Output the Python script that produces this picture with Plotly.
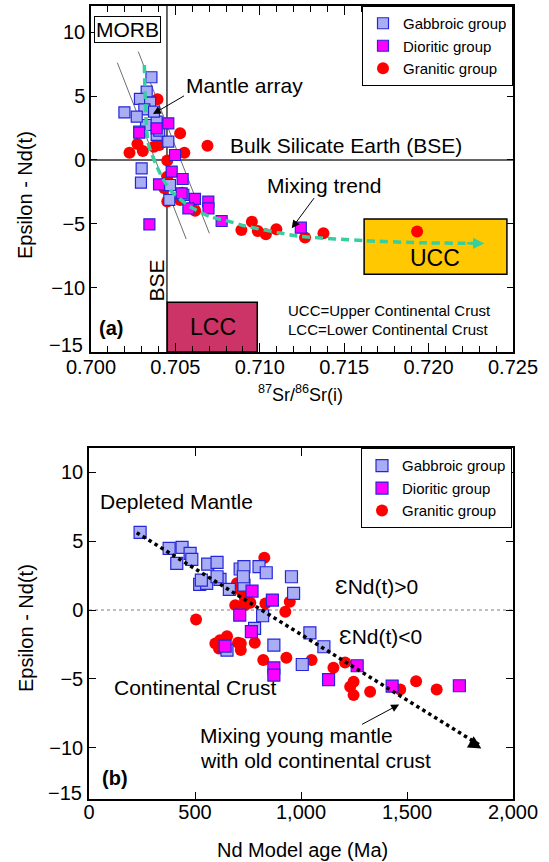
import plotly.graph_objects as go

FONT = "Liberation Sans, Arial, sans-serif"

# ---------------- Panel (a): Sr isotopes vs epsilon Nd ----------------
a_gab_sr = [0.70358, 0.70330, 0.70290, 0.70350, 0.70198, 0.70316, 0.70326, 0.70389,
            0.70389, 0.70458, 0.70300, 0.70296, 0.70468, 0.70464, 0.70547, 0.70286,
            0.70271, 0.70373, 0.70404]
a_gab_eps = [6.48, 5.35, 4.78, 4.49, 3.73, 3.97, 2.74, 3.00,
             1.96, 1.44, -0.65, -1.78, -1.96, -3.13, -2.74, 2.22,
             3.39, 3.79, 2.30]

a_dio_sr = [0.70458, 0.70389, 0.70286, 0.70498, 0.70478, 0.70543, 0.70403, 0.70537,
            0.70616, 0.70695, 0.70696, 0.70577, 0.70774, 0.70346, 0.71243]
a_dio_eps = [2.87, 2.48, 2.14, 0.39, -0.91, -1.49, -1.91, -2.61,
             -3.05, -3.26, -3.79, -3.79, -4.78, -5.04, -5.30]

a_gra_sr = [0.70394, 0.70228, 0.70275, 0.70307, 0.70373, 0.70404, 0.70528, 0.70553,
            0.70690, 0.70452, 0.70452, 0.70435, 0.70452, 0.70528, 0.70617, 0.70891,
            0.70953, 0.70988, 0.71036, 0.71098, 0.71268, 0.71377, 0.71932, 0.70539]
a_gra_eps = [4.75, 0.57, 1.25, 0.70, 1.04, 1.17, 2.09, 0.57,
             1.12, -0.05, -1.31, -2.22, -3.26, -3.13, -3.97, -5.48,
             -4.83, -5.56, -5.82, -5.43, -6.08, -5.74, -5.61, -2.56]

mix_sr = [0.70316, 0.70339, 0.70409, 0.70468, 0.70587, 0.70705, 0.70823, 0.70913,
          0.71224, 0.71618, 0.71950, 0.72261]
mix_eps = [7.44, 1.31, -1.04, -2.35, -3.66, -4.44, -4.83, -5.17,
           -5.95, -6.32, -6.48, -6.53]
mix_head_sr = [0.72220, 0.72330]
mix_head_eps = [-6.53, -6.55]

mantle1_sr = [0.70156, 0.70564]
mantle1_eps = [7.62, -6.19]
mantle2_sr = [0.70280, 0.70701]
mantle2_eps = [8.49, -5.74]

bse_sr = 0.7045
bse_eps = 0.0
ucc_sr = [0.71618, 0.72464]
ucc_eps = [-4.62, -8.96]
lcc_sr = [0.70452, 0.70985]
lcc_eps = [-11.15, -15.04]

a_eps_ticks = [-10, -5, 0, 5, 10]

# ---------------- Panel (b): Nd model age vs epsilon Nd ----------------
b_gab_age = [241, 378, 439, 414, 477, 485, 560, 604, 522, 555, 618, 604, 662, 713,
             731, 731, 728, 802, 836, 955, 965, 819, 781, 872, 1042, 1108, 1006, 651, 530]
b_gab_eps = [5.64, 4.48, 4.55, 3.39, 4.12, 3.68, 3.34, 3.46, 1.86, 1.94, 2.23, 2.42, 1.50, 2.98,
             3.15, 1.82, 2.42, 3.15, 2.71, 2.42, 1.21, -0.41, -1.33, -2.54, -1.65, -2.66, -3.95, -2.90, 2.18]

b_dio_age = [769, 865, 711, 766, 642, 872, 872, 1130, 1265, 1430, 1747]
b_dio_eps = [1.38, 0.73, -0.36, -1.57, -2.61, -4.19, -4.72, -5.04, -4.04, -5.52, -5.49]

b_gra_age = [827, 505, 596, 618, 651, 613, 703, 716, 716, 782, 822, 931, 1050, 1153, 1208,
             1232, 1248, 1248, 1326, 1468, 1543, 1640, 698, 690, 736, 761, 832, 926, 947, 720, 736]
b_gra_eps = [3.80, -0.68, -2.42, -2.18, -1.89, -2.78, -2.37, -2.90, -2.42, -2.37, -3.63, -3.46, -3.63, -4.19, -3.80,
             -5.57, -5.20, -6.17, -5.93, -5.76, -5.16, -5.76, 1.94, 0.36, 0.36, 0.53, 0.48, -0.12, 0.61, 1.33, 0.73]

trend_age = [225, 1843]
trend_eps = [5.62, -9.80]
trend_head_age = [1790, 1851]
trend_head_eps = [-9.48, -10.05]
mix_note_age = [1281, 1463]
mix_note_eps = [-8.35, -6.85]

GAB_FILL = "#a9aef4"
EDGE = "#2626d9"
DIO_FILL = "#ff00ff"
GRA_FILL = "#ff0000"
TEAL = "#35cfa0"

fig = go.Figure()

def add_groups(xa, ya, gab, dio, gra, legend, show, sq=11, ci=12):
    # drawing order: granitic (bottom), gabbroic, dioritic (top)
    fig.add_trace(go.Scatter(x=gra[0], y=gra[1], mode="markers", name="Granitic group",
                             xaxis=xa, yaxis=ya, legend=legend, legendrank=3, showlegend=show,
                             marker=dict(symbol="circle", size=ci, color=GRA_FILL,
                                         line=dict(width=0))))
    fig.add_trace(go.Scatter(x=gab[0], y=gab[1], mode="markers", name="Gabbroic group",
                             xaxis=xa, yaxis=ya, legend=legend, legendrank=1, showlegend=show,
                             marker=dict(symbol="square", size=sq, color=GAB_FILL,
                                         line=dict(width=1.2, color=EDGE))))
    fig.add_trace(go.Scatter(x=dio[0], y=dio[1], mode="markers", name="Dioritic group",
                             xaxis=xa, yaxis=ya, legend=legend, legendrank=2, showlegend=show,
                             marker=dict(symbol="square", size=sq, color=DIO_FILL,
                                         line=dict(width=1.2, color=EDGE))))

# mantle array lines (panel a)
for xs, ys in [(mantle1_sr, mantle1_eps), (mantle2_sr, mantle2_eps)]:
    fig.add_trace(go.Scatter(x=xs, y=ys, mode="lines", xaxis="x", yaxis="y", showlegend=False,
                             line=dict(color="#6e6e6e", width=1), hoverinfo="skip"))

add_groups("x", "y", (a_gab_sr, a_gab_eps), (a_dio_sr, a_dio_eps), (a_gra_sr, a_gra_eps),
           "legend", True)

fig.add_trace(go.Scatter(x=mix_sr, y=mix_eps, mode="lines", xaxis="x", yaxis="y",
                         showlegend=False, line=dict(color=TEAL, width=3.5, dash="8px,5px",
                                                     shape="spline", smoothing=0.6)))

# panel b
add_groups("x2", "y2", (b_gab_age, b_gab_eps), (b_dio_age, b_dio_eps), (b_gra_age, b_gra_eps),
           "legend2", True, sq=12, ci=12)
fig.add_trace(go.Scatter(x=trend_age, y=trend_eps, mode="lines", xaxis="x2", yaxis="y2",
                         showlegend=False, line=dict(color="black", width=3.5, dash="dot")))

shapes = [
    dict(type="line", xref="x", yref="y domain", x0=bse_sr, x1=bse_sr, y0=0, y1=1,
         line=dict(color="#333333", width=1.5), layer="below"),
    dict(type="line", xref="x domain", yref="y", x0=0, x1=1, y0=bse_eps, y1=bse_eps,
         line=dict(color="#333333", width=1.5), layer="below"),
    dict(type="rect", xref="x", yref="y", x0=ucc_sr[0], x1=ucc_sr[1], y0=ucc_eps[0], y1=ucc_eps[1],
         fillcolor="#ffc800", line=dict(color="black", width=1.5), layer="below"),
    dict(type="rect", xref="x", yref="y", x0=lcc_sr[0], x1=lcc_sr[1], y0=lcc_eps[0], y1=lcc_eps[1],
         fillcolor="#cc3366", line=dict(color="black", width=1.5), layer="below"),
    dict(type="line", xref="x2 domain", yref="y2", x0=0, x1=1, y0=0, y1=0,
         line=dict(color="#aaaaaa", width=1.5, dash="dot"), layer="below"),
]

BIG = 21
ann = []
def txt(text, x, y, xref, yref, size=BIG, xanchor="left", yanchor="middle", **kw):
    ann.append(dict(text=text, x=x, y=y, xref=xref, yref=yref, showarrow=False,
                    xanchor=xanchor, yanchor=yanchor, font=dict(family=FONT, size=size, color="black"), **kw))

# panel a texts
txt("MORB", 0.70219, 10.18, "x", "y", xanchor="center", bordercolor="black", borderwidth=1,
    borderpad=1, bgcolor="white")
txt("Mantle array", 0.70550, 5.87, "x", "y")
txt("Bulk Silicate Earth (BSE)", 0.70813, 1.17, "x", "y")
txt("Mixing trend", 0.71031, -1.96, "x", "y")
txt("BSE", 0.70388, -9.40, "x", "y", xanchor="center", textangle=-90)
txt("<b>(a)</b>", 0.70116, -13.18, "x", "y", size=20, xanchor="center")
txt("UCC", 0.72039, -7.70, "x", "y", size=23, xanchor="center")
txt("LCC", 0.70720, -13.10, "x", "y", size=23, xanchor="center")
txt("UCC=Upper Continental Crust", 0.71155, -11.82, "x", "y", size=15)
txt("LCC=Lower Continental Crust", 0.71155, -13.31, "x", "y", size=15)

# panel b texts
txt("Depleted Mantle", 42, 7.87, "x2", "y2")
txt("ƐNd(t)>0", 1151, 1.69, "x2", "y2")
txt("ƐNd(t)<0", 1170, -1.94, "x2", "y2")
txt("Continental Crust", 108, -5.64, "x2", "y2")
txt("Mixing young mantle", 514, -9.08, "x2", "y2")
txt("with old continental crust", 514, -10.94, "x2", "y2")
txt("<b>(b)</b>", 123, -12.2, "x2", "y2", size=20, xanchor="center")

# axis titles and the squeezed bottom tick labels of the reference
txt("Epsilon - Nd(t)", 25 / 549, 1 - 195 / 862, "paper", "paper", size=20, xanchor="center",
    textangle=-90)
txt("<sup>87</sup>Sr/<sup>86</sup>Sr(i)", 300 / 549, 1 - 393 / 862, "paper", "paper", size=18,
    xanchor="center")
txt("Epsilon - Nd(t)", 26 / 549, 1 - 628 / 862, "paper", "paper", size=20, xanchor="center",
    textangle=-90)
txt("Nd Model age (Ma)", 302 / 549, 1 - 850 / 862, "paper", "paper", size=20, xanchor="center")
txt("\u221215", 85 / 549, 1 - 345 / 862, "paper", "paper", size=20, xanchor="right")
txt("\u221215", 84 / 549, 1 - 792.7 / 862, "paper", "paper", size=20, xanchor="right")

# arrows
def arrow(tail, head, xref, yref, color, width, head_style, size):
    ann.append(dict(x=head[0], y=head[1], ax=tail[0], ay=tail[1], xref=xref, yref=yref,
                    axref=xref, ayref=yref, text="", showarrow=True, arrowhead=head_style,
                    arrowsize=size, arrowwidth=width, arrowcolor=color, standoff=0))

arrow((0.70560, 5.09), (0.70367, 3.60), "x", "y", "black", 1, 2, 1.6)
arrow((0.71328, -2.87), (0.71189, -5.35), "x", "y", "black", 1, 2, 1.6)
arrow((mix_head_sr[0], mix_head_eps[0]), (mix_head_sr[1], mix_head_eps[1]), "x", "y", TEAL, 2.5, 2, 0.9)
arrow((trend_head_age[0], trend_head_eps[0]), (trend_head_age[1], trend_head_eps[1]), "x2", "y2",
      "black", 2, 2, 1.3)
arrow((mix_note_age[0], mix_note_eps[0]), (mix_note_age[1], mix_note_eps[1]), "x2", "y2",
      "black", 1, 2, 1.6)

axis_common = dict(showline=True, linecolor="black", linewidth=1.5, mirror="ticks",
                   ticks="inside", tickcolor="black", showgrid=False, zeroline=False,
                   automargin=False,
                   tickfont=dict(family=FONT, size=20, color="black"))

fig.update_layout(
    width=549, height=862, margin=dict(l=0, r=0, t=0, b=0),
    paper_bgcolor="white", plot_bgcolor="white",
    font=dict(family=FONT, color="black"),
    xaxis=dict(domain=[91 / 549, 513 / 549], anchor="y", range=[0.700, 0.725], dtick=0.005,
               tickformat=".3f", ticklen=9,
               minor=dict(ticks="inside", dtick=0.001, ticklen=6, tickcolor="black"),
               ticklabelstandoff=-4, **axis_common),
    yaxis=dict(domain=[1 - 352 / 862, 1 - 6 / 862], anchor="x", range=[-15.04, 12.06],
               tickmode="array", tickvals=a_eps_ticks,
               ticklen=6, ticklabelstandoff=0, **axis_common),
    xaxis2=dict(domain=[89 / 549, 513 / 549], anchor="y2", range=[0, 2000], dtick=500,
                tickformat=",d", ticklen=8, ticklabelstandoff=-6, **axis_common),
    yaxis2=dict(domain=[1 - 799.3 / 862, 1 - 448.3 / 862], anchor="x2", range=[-13.73, 11.74],
                dtick=5, ticklen=7, ticklabelstandoff=0, **axis_common),
    legend=dict(x=362 / 549, y=1 - 6 / 862, xanchor="left", yanchor="top",
                bordercolor="black", borderwidth=1, bgcolor="white",
                font=dict(family=FONT, size=15, color="black"), tracegroupgap=0),
    legend2=dict(x=361 / 549, y=1 - 448.3 / 862, xanchor="left", yanchor="top",
                 bordercolor="black", borderwidth=1, bgcolor="white",
                 font=dict(family=FONT, size=15, color="black"), tracegroupgap=0),
    shapes=shapes, annotations=ann, showlegend=True,
)

fig.write_html("out.html")
